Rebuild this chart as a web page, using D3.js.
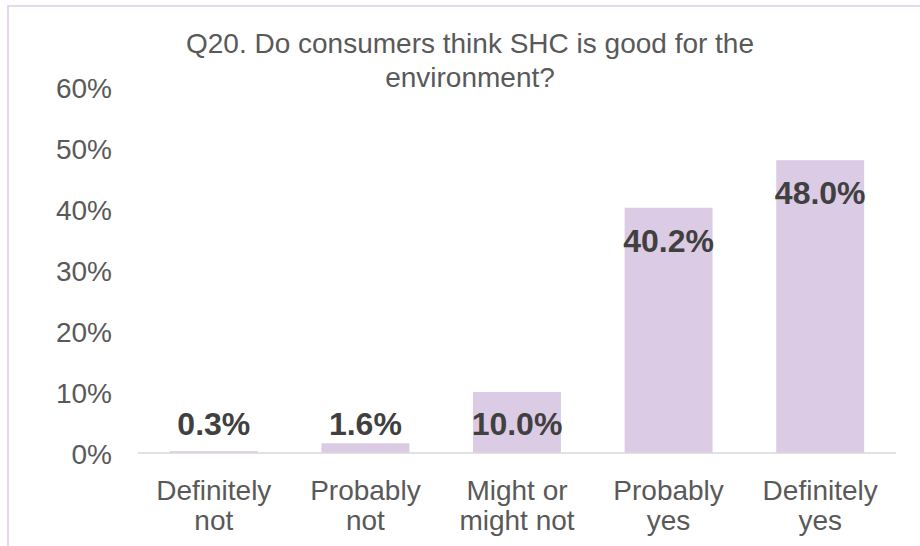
<!DOCTYPE html>
<html>
<head>
<meta charset="utf-8">
<script src="https://cdn.jsdelivr.net/npm/d3@7"></script>
<style>
  html, body { margin: 0; padding: 0; background: #fff; }
  svg { display: block; font-family: "Liberation Sans", Arial, sans-serif; }
</style>
</head>
<body>
<svg id="chart" width="920" height="546"></svg>
<script>
// Survey answers and the share of respondents for each
const categories = [["Definitely", "not"], ["Probably", "not"], ["Might or", "might not"], ["Probably", "yes"], ["Definitely", "yes"]];
const values = [0.3, 1.6, 10.0, 40.2, 48.0];
const yTicks = [0, 10, 20, 30, 40, 50, 60];
const titleLines = ["Q20. Do consumers think SHC is good for the", "environment?"];

const svg = d3.select("#chart");
const W = 920, H = 546;
const plot = { left: 138, right: 896, top: 87, bottom: 453 };

// Chart frame
svg.append("rect")
  .attr("x", 8).attr("y", 6)
  .attr("width", 930).attr("height", 560)
  .attr("fill", "none")
  .attr("stroke", "#dccbe4")
  .attr("stroke-width", 1.5);

const x = d3.scaleBand()
  .domain(d3.range(values.length))
  .range([plot.left, plot.right])
  .paddingInner(0.42)
  .paddingOuter(0.21);

const y = d3.scaleLinear()
  .domain([0, 60])
  .range([plot.bottom, plot.top]);

// Title
svg.append("text")
  .attr("x", 470).attr("y", 53)
  .attr("text-anchor", "middle")
  .attr("fill", "#595959")
  .style("font-size", "28px")
  .selectAll("tspan")
  .data(titleLines)
  .join("tspan")
  .attr("x", 470)
  .attr("dy", (d, i) => i === 0 ? 0 : 34)
  .text(d => d);

// Y axis tick labels (no axis line or gridlines)
const yAxis = d3.axisLeft(y)
  .tickValues(yTicks)
  .tickFormat(d => d + "%")
  .tickSize(0)
  .tickPadding(0);
const gy = svg.append("g")
  .attr("transform", `translate(112,0)`)
  .call(yAxis);
gy.select(".domain").remove();
gy.selectAll("text")
  .attr("fill", "#595959")
  .attr("dy", null)
  .attr("y", 10)
  .style("font-size", "28px")
  .style("font-family", "'Liberation Sans', Arial, sans-serif");

// Bars
svg.append("g")
  .selectAll("rect")
  .data(values)
  .join("rect")
  .attr("x", (d, i) => x(i))
  .attr("y", d => y(d))
  .attr("width", x.bandwidth())
  .attr("height", d => y(0) - y(d))
  .attr("fill", "#dccbe4");

// Baseline
svg.append("line")
  .attr("x1", plot.left).attr("x2", plot.right)
  .attr("y1", y(0)).attr("y2", y(0))
  .attr("stroke", "#d9d9d9")
  .attr("stroke-width", 1.5);

// Value labels: inside the top of tall bars, sitting just above the baseline for short ones
svg.append("g")
  .selectAll("text")
  .data(values)
  .join("text")
  .attr("x", (d, i) => x(i) + x.bandwidth() / 2)
  .attr("y", d => Math.min(y(d) + 44, y(0) - 18))
  .attr("text-anchor", "middle")
  .attr("fill", "#404040")
  .style("font-size", "32px")
  .style("font-weight", "bold")
  .text(d => d.toFixed(1) + "%");

// Category labels, two lines each
const gx = svg.append("g");
categories.forEach((lines, i) => {
  gx.append("text")
    .attr("text-anchor", "middle")
    .attr("fill", "#595959")
    .style("font-size", "28px")
    .selectAll("tspan")
    .data(lines)
    .join("tspan")
    .attr("x", x(i) + x.bandwidth() / 2)
    .attr("y", (d, j) => 500 + j * 30)
    .text(d => d);
});
</script>
</body>
</html>
